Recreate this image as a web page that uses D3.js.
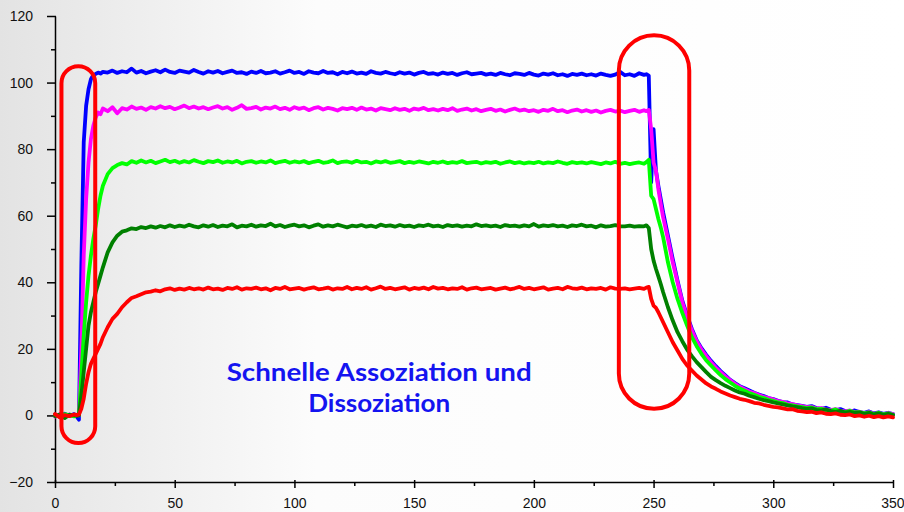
<!DOCTYPE html>
<html>
<head>
<meta charset="utf-8">
<script src="https://cdn.jsdelivr.net/npm/d3@7"></script>
<style>
  body { margin: 0; background: #fff; }
  .axis text { font-family: "Liberation Sans", Arial, sans-serif; font-size: 14px; fill: #111; }
  .axis path, .axis line { stroke: #000; stroke-width: 1.5; }
  .curve { fill: none; stroke-width: 3.8; stroke-linejoin: round; stroke-linecap: round; }
  .box { fill: none; stroke: #ff0000; stroke-width: 4; }
  .note { font-family: Lato, "Open Sans", sans-serif; font-weight: bold; font-size: 24px; fill: #1414f0; }
</style>
</head>
<body>
<div id="chart"></div>
<script>

// time axis (s)
var time = [0, 2, 4, 6, 8, 9, 10, 11, 12, 13, 14, 15, 16, 17, 18, 19, 20,
  22, 24, 26, 28, 30, 32, 34, 36, 38, 40,
  42, 44, 46, 48, 50, 52, 54, 56, 58, 60,
  62, 64, 66, 68, 70, 72, 74, 76, 78, 80,
  82, 84, 86, 88, 90, 92, 94, 96, 98, 100,
  102, 104, 106, 108, 110, 112, 114, 116, 118, 120,
  122, 124, 126, 128, 130, 132, 134, 136, 138, 140,
  142, 144, 146, 148, 150, 152, 154, 156, 158, 160,
  162, 164, 166, 168, 170, 172, 174, 176, 178, 180,
  182, 184, 186, 188, 190, 192, 194, 196, 198, 200,
  202, 204, 206, 208, 210, 212, 214, 216, 218, 220,
  222, 224, 226, 228, 230, 232, 234, 236, 238, 240,
  242, 244, 246,
  247, 248, 249, 250, 251, 252, 253, 254,
  256, 258, 260, 262, 264, 266, 268, 270, 272, 274,
  276, 278, 280, 282, 284, 286, 288, 290, 292, 294,
  296, 298, 300, 302, 304, 306, 308, 310, 312, 314,
  316, 318, 320, 322, 324, 326, 328, 330, 332, 334,
  336, 338, 340, 342, 344, 346, 348, 350];

// response curves, one per concentration
var blue = [0.3, -0.4, 0.5, -0.2, 0.4, -0.3, -1.3, 45, 82, 93, 98, 101, 102.3, 102.6, 103.0, 102.7, 103.2,
  103.0, 103.6, 102.9, 103.4, 103.1, 104.2, 103.0, 103.5, 102.8, 103.3,
  103.7, 103.1, 103.9, 103.2, 102.9, 103.6, 103.3, 103.0, 103.8, 103.2,
  102.7, 103.4, 103.0, 103.5, 102.8, 103.2, 103.6, 102.9, 103.1, 102.6,
  103.3, 102.9, 103.5, 102.8, 103.0, 103.4, 102.7, 103.1, 103.6, 102.9,
  103.2, 102.6, 103.4, 103.0, 102.8, 103.5, 102.9, 103.1, 102.5, 103.2,
  102.8, 103.3, 102.7, 103.0, 102.6, 103.4, 102.9, 102.7, 103.2, 102.8,
  102.5, 103.1, 102.7, 103.0, 102.4, 102.9, 103.2, 102.6, 102.8, 102.4,
  103.0, 102.6, 102.9, 102.3, 102.8, 103.1, 102.5, 102.7, 102.9, 102.4,
  102.7, 102.3, 102.9, 102.5, 102.2, 102.8, 102.6, 102.3, 102.9, 102.4,
  102.1, 102.7, 102.4, 102.8, 102.2, 102.5, 102.0, 102.6, 102.3, 102.7,
  102.2, 102.5, 102.1, 102.7, 102.3, 102.0, 102.4, 103.2, 102.2, 102.5,
  102.0, 102.8, 102.3,
  102.5, 102.1, 70, 86, 73.5, 69, 65, 61,
  54, 47, 40.5, 34.5, 30, 26, 22.6, 20.2, 18.2, 16.4,
  14.8, 13.3, 12.0, 10.7, 9.7, 8.8, 8.2, 7.5, 6.8, 6.3,
  5.8, 5.2, 4.9, 4.4, 4.0, 3.9, 3.3, 3.1, 2.9, 2.6,
  2.8, 2.2, 2.0, 2.3, 1.7, 1.5, 1.9, 1.3, 1.1, 1.5,
  1.0, 0.8, 1.2, 0.6, 0.9, 0.5, 0.8, 0.4];

var magenta = [-0.3, 0.4, -0.5, 0.3, -0.2, 0.2, 0.0, 20, 48, 65, 76, 83, 87, 89.5, 91, 90.5, 92.2,
  91.4, 92.6, 90.8, 92.3, 91.9, 92.8, 92.1, 92.5, 91.8, 92.6,
  92.2, 92.9, 92.3, 92.7, 92.0, 92.5, 93.1, 92.3, 92.8, 92.2,
  92.6, 92.0, 92.5, 92.9, 92.2, 92.6, 91.8, 92.4, 93.2, 92.1,
  92.3, 92.7, 91.9, 92.5, 92.2, 92.8, 92.0, 92.4, 91.8, 92.6,
  92.1, 92.5, 91.7, 92.3, 92.6, 91.9, 92.4, 92.1, 91.6, 92.3,
  92.0, 92.4, 91.8, 92.5, 91.9, 92.2, 91.6, 92.3, 92.0, 91.7,
  92.3, 91.8, 92.1, 91.5, 92.2, 91.9, 92.4, 91.7, 92.0, 91.6,
  92.1, 91.7, 92.3, 91.5, 91.9, 92.2, 91.6, 92.0, 91.4, 91.8,
  92.1, 91.5, 91.9, 91.3, 91.8, 92.2, 91.6, 91.9, 91.4, 91.7,
  91.2, 91.8, 91.5, 92.1, 91.4, 91.7, 91.1, 91.6, 91.9, 91.3,
  91.7, 91.2, 91.6, 91.0, 91.5, 91.8, 91.3, 91.6, 91.1, 91.5,
  91.8, 91.2, 91.7,
  91.4, 91.8, 86, 76, 73.5, 68, 63.5, 59.5,
  53, 46, 40, 34, 29.5, 25.5, 22.3, 19.8, 17.8, 16.0,
  14.4, 13.0, 11.7, 10.6, 9.5, 8.6, 7.9, 7.2, 6.7, 6.1,
  5.6, 5.2, 4.8, 4.3, 4.1, 3.6, 3.4, 3.0, 2.8, 2.5,
  2.6, 2.1, 2.2, 1.8, 1.6, 1.9, 1.4, 1.2, 1.5, 1.0,
  1.1, 0.7, 1.0, 0.5, 0.8, 0.3, 0.7, 0.4];

var lightGreen = [0.2, -0.3, 0.4, 0.1, -0.3, 0.1, 0.2, 12, 24, 34, 42, 48, 53, 57, 62, 66, 69,
  72.5, 74.3, 75.2, 75.8, 75.4, 76.4, 75.9, 76.6, 76.0, 76.5,
  75.8, 76.3, 76.8, 76.1, 76.5, 75.9, 76.4, 76.0, 76.7, 76.2,
  75.8, 76.4, 76.1, 76.6, 75.9, 76.3, 76.0, 76.5, 75.7, 76.2,
  76.4, 75.9, 76.3, 76.0, 76.6, 75.8, 76.2, 76.5, 75.9, 76.3,
  76.0, 76.4, 75.8, 76.2, 76.5, 75.9, 76.1, 76.6, 75.8, 76.2,
  76.3, 75.9, 76.5, 76.0, 76.2, 75.7, 76.3, 76.0, 76.4, 75.9,
  76.1, 76.4, 75.8, 76.2, 75.9, 76.3, 76.0, 75.7, 76.2, 75.9,
  76.3, 75.8, 76.1, 75.9, 76.4, 75.8, 76.0, 76.2, 75.7, 76.1,
  75.9, 76.2, 75.6, 76.0, 76.3, 75.8, 76.1, 75.7, 76.0, 75.8,
  76.2, 75.7, 76.0, 75.8, 76.3, 75.9, 75.6, 76.1, 75.8, 76.0,
  75.7, 76.1, 75.8, 75.5, 76.0, 75.7, 76.2, 75.6, 75.9, 75.5,
  75.8, 76.0, 75.6,
  76.1, 76.8, 66, 65, 62, 59, 56.5, 53.5,
  46, 40, 35, 30.8, 27, 23.5, 20.8, 18.5, 16.5, 15.0,
  13.5, 12.1, 10.9, 9.9, 8.9, 8.1, 7.4, 6.7, 6.2, 5.6,
  5.2, 4.7, 4.4, 3.9, 3.7, 3.2, 3.0, 2.7, 2.5, 2.2,
  2.4, 1.9, 2.0, 1.6, 1.4, 1.8, 1.2, 1.0, 1.4, 0.9,
  1.0, 0.6, 0.9, 0.4, 0.8, 0.3, 0.6, 0.2];

var darkGreen = [-0.2, 0.3, -0.8, 0.2, 0.1, -0.1, 0.0, 6, 13, 20, 27, 31, 34, 37, 39.5, 42, 44.5,
  49, 52, 54, 55.2, 55.6, 56.2, 56.0, 56.6, 56.3, 56.8,
  56.4, 56.9, 56.5, 57.1, 56.6, 57.0, 56.7, 57.3, 56.8, 56.5,
  57.1, 56.7, 57.2, 56.6, 57.0, 56.8, 57.4, 56.5, 57.0, 56.8,
  57.3, 56.7, 57.1, 56.9, 57.6, 56.8, 57.2, 56.6, 57.0, 57.3,
  56.8, 57.1, 56.5, 57.0, 57.4, 56.7, 57.1, 56.8, 57.3, 56.9,
  56.5, 57.0, 56.8, 57.2, 56.7, 57.0, 56.6, 57.3, 56.9, 57.1,
  56.7, 57.2, 56.8, 57.0, 56.6, 57.1, 56.9, 57.3, 56.8, 57.0,
  56.6, 57.2, 56.9, 57.1, 56.7, 57.0, 56.8, 57.4, 56.9, 57.1,
  56.8, 57.0, 56.6, 57.2, 56.9, 57.0, 56.7, 57.1, 56.8, 57.5,
  56.7, 57.1, 56.9, 57.2, 56.8, 57.0, 56.6, 57.1, 56.9, 57.3,
  56.8, 57.0, 56.5, 57.1, 56.7, 56.9, 57.2, 56.8, 56.8, 57.0,
  56.7, 56.9, 56.8,
  57.1, 56.3, 50, 46.5, 44, 41.8, 39.5, 37,
  32.5, 28.5, 25, 22.3, 19.8, 17.8, 16.0, 14.5, 13.0, 11.6,
  10.6, 9.7, 8.9, 8.2, 7.5, 6.9, 6.5, 5.9, 5.5, 5.0,
  4.6, 4.3, 3.9, 3.6, 3.3, 3.0, 2.7, 2.5, 2.2, 2.0,
  2.1, 1.7, 1.5, 1.8, 1.3, 1.1, 1.4, 0.9, 1.1, 0.8,
  0.9, 0.5, 0.8, 0.3, 0.6, 0.2, 0.5, 0.1];

var red = [0.4, -0.6, 0.1, -0.2, 0.3, 0.1, 0.3, 2, 5, 9.5, 13, 15.5, 17, 18.5, 20, 21.5, 23.5,
  26.5, 29, 30.5, 32.5, 34, 35.3, 35.8, 36.4, 37.0, 37.2,
  37.6, 37.3, 37.9, 38.2, 37.7, 38.1, 37.8, 38.3, 37.9, 38.2,
  37.8, 38.4, 37.9, 38.1, 37.7, 38.3, 38.0, 38.5, 37.8, 38.2,
  38.0, 38.4, 37.9, 38.2, 37.6, 38.3, 38.0, 38.6, 37.9, 38.1,
  38.3, 37.8, 38.2, 38.5, 37.9, 38.1, 38.4, 37.8, 38.2, 38.0,
  38.6, 37.9, 38.3, 38.0, 38.5, 37.8, 38.2, 38.7, 38.0, 38.3,
  37.9, 38.2, 38.5, 37.8, 38.3, 38.0, 38.4, 37.9, 38.6, 38.1,
  38.3, 37.9, 38.2, 38.0, 38.5, 37.8, 38.2, 38.4, 37.9, 38.1,
  38.3, 37.8, 38.1, 38.4, 37.9, 38.2, 38.6, 38.0, 38.3, 37.9,
  38.2, 38.5, 37.8, 38.1, 38.3, 37.9, 38.6, 38.2, 38.0, 38.4,
  37.9, 38.2, 38.0, 38.3, 37.8, 38.5, 38.1, 38.0, 38.2, 37.9,
  38.1, 38.3, 38.0,
  38.4, 38.6, 35, 33, 32.3, 31, 29.5, 28,
  25, 22, 19.5, 17, 15, 13.5, 12, 10.8, 9.6, 8.7,
  8.0, 7.2, 6.6, 6.0, 5.5, 5.0, 4.7, 4.3, 3.8, 3.6,
  3.2, 2.9, 2.6, 2.4, 2.1, 1.8, 1.9, 1.4, 1.2, 1.0,
  1.1, 0.7, 0.9, 0.5, 0.4, 0.6, 0.2, 0.1, 0.3, -0.2,
  0.0, -0.4, -0.1, -0.5, -0.2, -0.6, -0.3, -0.6];

var seriesNames = ["blue", "magenta", "lightGreen", "darkGreen", "red"];
var seriesValues = [blue, magenta, lightGreen, darkGreen, red];
var seriesColors = ["#0000ff", "#ff00ff", "#00ff00", "#008000", "#ff0000"];

// tick values
var xTicks = [0, 50, 100, 150, 200, 250, 300, 350];
var xMinor = [25, 75, 125, 175, 225, 275, 325];
var yTicks = [-20, 0, 20, 40, 60, 80, 100, 120];
var yMinor = [-10, 10, 30, 50, 70, 90, 110];

// highlighted regions: [t start, t end, y top, y bottom]
var boxes = [[2.7, 16.8, 104.9, -8.3], [235.5, 264.9, 114.2, 2.0]];

// annotation
var noteLines = ["Schnelle Assoziation und", "Dissoziation"];

var width = 904, height = 512;

var svg = d3.select("#chart")
  .append("svg")
  .attr("width", width)
  .attr("height", height);

// grey to white background gradient
var grad = svg.append("defs")
  .append("linearGradient")
  .attr("id", "bg")
  .attr("x1", "0%").attr("x2", "100%")
  .attr("y1", "0%").attr("y2", "0%");
grad.append("stop").attr("offset", "0%").attr("stop-color", "#e3e3e3");
grad.append("stop").attr("offset", "35%").attr("stop-color", "#fcfcfc");
grad.append("stop").attr("offset", "100%").attr("stop-color", "#ffffff");

svg.append("rect")
  .attr("width", width)
  .attr("height", height)
  .attr("fill", "url(#bg)");

// scales
var x = d3.scaleLinear().domain([0, 350]).range([55, 893]);
var y = d3.scaleLinear().domain([-20, 120]).range([482, 16]);

// minor ticks first
svg.append("g")
  .attr("class", "axis")
  .attr("transform", "translate(0," + y(-20) + ")")
  .call(d3.axisBottom(x).tickValues(xMinor).tickSize(4).tickFormat(""))
  .call(function(g) { g.select(".domain").remove(); });

svg.append("g")
  .attr("class", "axis")
  .attr("transform", "translate(" + x(0) + ",0)")
  .call(d3.axisLeft(y).tickValues(yMinor).tickSize(4).tickFormat(""))
  .call(function(g) { g.select(".domain").remove(); })
  .selectAll(".tick line").attr("x2", -4).attr("x1", 1);

// x axis
var xAxisG = svg.append("g")
  .attr("class", "axis")
  .attr("transform", "translate(0," + y(-20) + ")")
  .call(d3.axisBottom(x).tickValues(xTicks).tickSize(6).tickSizeOuter(0).tickPadding(10));
xAxisG.selectAll(".tick line").attr("y1", -2);
// keep the last label inside the window
xAxisG.selectAll(".tick text")
  .filter(function(d) { return d === 350; })
  .attr("text-anchor", "end")
  .attr("dx", "11");

// y axis
var yAxisG = svg.append("g")
  .attr("class", "axis")
  .attr("transform", "translate(" + x(0) + ",0)")
  .call(d3.axisLeft(y).tickValues(yTicks).tickSize(8).tickSizeOuter(0).tickPadding(14));
yAxisG.selectAll(".tick line").attr("x1", 1);

// curves
var line = d3.line()
  .x(function(d) { return x(d[0]); })
  .y(function(d) { return y(d[1]); });

seriesValues.forEach(function(vals, i) {
  svg.append("path")
    .datum(d3.zip(time, vals))
    .attr("class", "curve " + seriesNames[i])
    .attr("d", line)
    .style("stroke", seriesColors[i]);
});

// red rounded boxes around association and dissociation
svg.selectAll(".box")
  .data(boxes)
  .enter()
  .append("rect")
  .attr("class", "box")
  .attr("x", function(d) { return x(d[0]); })
  .attr("y", function(d) { return y(d[2]); })
  .attr("width", function(d) { return x(d[1]) - x(d[0]); })
  .attr("height", function(d) { return y(d[3]) - y(d[2]); })
  .attr("rx", function(d) { return (x(d[1]) - x(d[0])) / 2; })
  .attr("ry", function(d) { return (x(d[1]) - x(d[0])) / 2; });

// annotation text
var noteWidths = [305, 142];
svg.selectAll(".note")
  .data(noteLines)
  .enter()
  .append("text")
  .attr("class", "note")
  .attr("x", x(135.4))
  .attr("y", function(d, i) { return y(10.3) + i * 31; })
  .attr("text-anchor", "middle")
  .attr("textLength", function(d, i) { return noteWidths[i]; })
  .attr("lengthAdjust", "spacingAndGlyphs")
  .text(function(d) { return d; });

</script>
</body>
</html>
